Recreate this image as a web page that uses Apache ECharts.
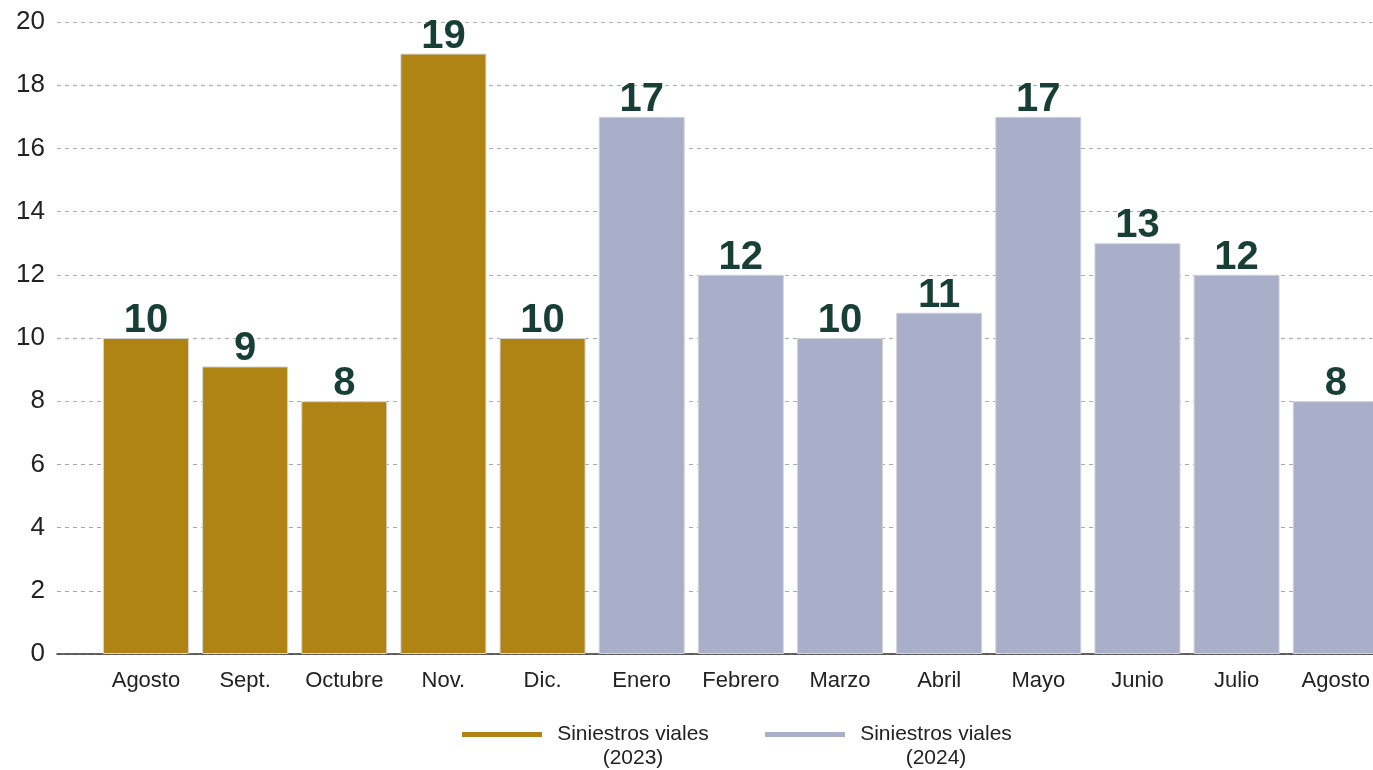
<!DOCTYPE html>
<html>
<head>
<meta charset="utf-8">
<script src="https://cdn.jsdelivr.net/npm/echarts@6/dist/echarts.min.js"></script>
<style>
html,body{margin:0;padding:0;background:#fff;}
#chart{width:1373px;height:770px;}
</style>
</head>
<body>
<div id="chart"></div>
<script>
const categories = ['Agosto','Sept.','Octubre','Nov.','Dic.','Enero','Febrero','Marzo','Abril','Mayo','Junio','Julio','Agosto'];
const values2023 = [10, 9.1, 8, 19, 10];
const values2024 = [17, 12, 10, 10.8, 17, 13, 12, 8];
const yTicks = [0, 2, 4, 6, 8, 10, 12, 14, 16, 18, 20];
const seriesNames = ['Siniestros viales 2023', 'Siniestros viales 2024'];
const legendLines = { 'Siniestros viales 2023': ['Siniestros viales', '(2023)'], 'Siniestros viales 2024': ['Siniestros viales', '(2024)'] };

// category positions on a value x axis (index per category)
const catIndex = categories.map((c, i) => i);
const data2023 = values2023.map((v, i) => [catIndex[i], v]);
const data2024 = values2024.map((v, i) => [catIndex[i + values2023.length], v]);

const font = '"Liberation Sans", Arial, Helvetica, sans-serif';
const labelStyle = {
  show: true, position: 'top', distance: -3,
  formatter: p => String(Math.round(p.value[1])),
  fontFamily: font, fontWeight: 'bold', fontSize: 40, color: '#173f35'
};

// layout: plot spans 57..1373 px; category pitch ~99.2 px, first centre at 146 px
const plotLeft = 57, plotWidth = 1373 - 57, pitch = 99.2, firstCentre = 146;
const xMin = -(firstCentre - plotLeft) / pitch;
const xMax = xMin + plotWidth / pitch;

const chart = echarts.init(document.getElementById('chart'), null, { renderer: 'canvas' });
chart.setOption({
  backgroundColor: '#fff',
  animation: false,
  grid: { left: plotLeft, right: 0, top: 22, bottom: 116 },
  xAxis: {
    type: 'value', min: xMin, max: xMax,
    axisLine: { show: true, onZero: false, lineStyle: { color: '#333', width: 1.5 } },
    axisTick: { show: false },
    splitLine: { show: false },
    axisLabel: {
      customValues: catIndex, showMinLabel: true, showMaxLabel: true, hideOverlap: false,
      formatter: v => categories[Math.round(v)] || '',
      margin: 16, fontFamily: font, fontSize: 22, color: '#222'
    }
  },
  yAxis: {
    type: 'value', min: yTicks[0], max: yTicks[yTicks.length - 1], interval: yTicks[1] - yTicks[0],
    axisLine: { show: false }, axisTick: { show: false },
    axisLabel: { margin: 12, fontFamily: font, fontSize: 26, color: '#222' },
    splitLine: { show: true, lineStyle: { color: '#aaa', type: [4, 4], width: 1 } }
  },
  legend: {
    left: 457, top: 695, itemWidth: 80, itemHeight: 5, itemGap: 46, icon: 'rect',
    itemStyle: { borderWidth: 0 },
    data: seriesNames,
    formatter: name => '{a| }\n{a|' + legendLines[name][0] + '}\n{a|' + legendLines[name][1] + '}',
    textStyle: {
      rich: { a: { width: 172, align: 'center', fontFamily: font, fontSize: 21, lineHeight: 24, color: '#222' } }
    }
  },
  series: [
    { name: seriesNames[0], type: 'bar', stack: 'all', data: data2023, barWidth: 86,
      itemStyle: { color: '#b08414', borderColor: '#d4d4d4', borderWidth: 1 }, label: labelStyle },
    { name: seriesNames[1], type: 'bar', stack: 'all', data: data2024, barWidth: 86,
      itemStyle: { color: '#a9aec9', borderColor: '#d4d4d4', borderWidth: 1 }, label: labelStyle }
  ]
});
</script>
</body>
</html>
